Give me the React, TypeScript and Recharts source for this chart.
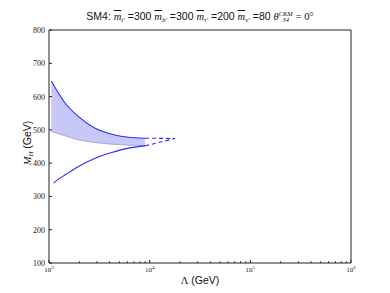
import React from "react";
import { ComposedChart, Area, Line, XAxis, YAxis } from "recharts";

// cutoff scale (GeV) and Higgs mass bounds (GeV)
const lambda = [1054, 1111, 1245, 1451, 1963, 2877, 4207, 6150, 9000, 17860];
const mhUpper = [647, 635, 610, 580, 540, 505, 487, 478, 475, null];
const mhBand = [495, 493, 488, 482, 470, 462, 457, 454, 453, null];
const mhLower = [null, 340, 352, 365, 390, 415, 432, 445, 452, null];
const mhUpperDash = [null, null, null, null, null, null, null, null, 475, 474];
const mhLowerDash = [null, null, null, null, null, null, null, null, 452, 474];

const xMajor = [1e3, 1e4, 1e5, 1e6];
const xMinor = [2, 3, 4, 5, 6, 7, 8, 9].flatMap((m) => [m * 1e3, m * 1e4, m * 1e5]);
const xTicks = [...xMajor, ...xMinor].sort((a, b) => a - b);
const yTicks = [100, 200, 300, 400, 500, 600, 700, 800];

const data = lambda.map((l, i) => ({
  lambda: l,
  upper: mhUpper[i],
  band: mhBand[i],
  lower: mhLower[i],
  upperDash: mhUpperDash[i],
  lowerDash: mhLowerDash[i],
}));

const BLUE = "#2a2aff";
const FRAME = "#222";
const SERIF = "'Liberation Serif', serif";
const SANS = "'Liberation Sans', Arial, sans-serif";

const isMajor = (v: number) => xMajor.includes(v);

function BottomTick(props: any) {
  const { x, y, payload } = props;
  const v = payload.value;
  const len = isMajor(v) ? 3 : 1.7;
  return (
    <g>
      <line x1={x} x2={x} y1={y} y2={y - len} stroke={FRAME} />
      {isMajor(v) && (
        <text x={x} y={y + 9} textAnchor="middle" fontFamily={SERIF} fontSize={7} fill="#222">
          10<tspan dy={-3} fontSize={5}>{Math.round(Math.log10(v))}</tspan>
        </text>
      )}
    </g>
  );
}

function LeftTick(props: any) {
  const { x, y, payload } = props;
  return (
    <g>
      <line x1={x} x2={x + 3} y1={y} y2={y} stroke={FRAME} />
      <text x={x - 4} y={y + 3} textAnchor="end" fontFamily={SERIF} fontSize={8} fill="#222">
        {payload.value}
      </text>
    </g>
  );
}

const mbar = (sub: string) => (
  <>
    <span style={{ fontFamily: SERIF, fontStyle: "italic", textDecoration: "overline" }}>m</span>
    <span style={{ fontFamily: SERIF, fontStyle: "italic", fontSize: 7, position: "relative", top: 2 }}>{sub}</span>
  </>
);

export default function App() {
  return (
    <div style={{ position: "absolute", left: 0, top: 0, width: 390, height: 293, background: "#fff" }}>
      <ComposedChart
        width={390}
        height={293}
        data={data}
        margin={{ top: 24, right: 33, bottom: 0, left: 0 }}
      >
        <XAxis
          dataKey="lambda"
          type="number"
          scale="log"
          domain={[1e3, 1e6]}
          allowDataOverflow
          ticks={xTicks}
          interval={0}
          height={30}
          tickSize={0}
          tickMargin={0}
          tickLine={false}
          tick={<BottomTick />}
          axisLine={{ stroke: FRAME }}
        />
        <XAxis
          xAxisId="top"
          dataKey="lambda"
          type="number"
          scale="log"
          orientation="top"
          domain={[1e3, 1e6]}
          allowDataOverflow
          ticks={xTicks}
          interval={0}
          height={6}
          tickSize={-2}
          tick={false}
          tickLine={{ stroke: FRAME }}
          axisLine={{ stroke: FRAME }}
        />
        <YAxis
          type="number"
          domain={[100, 800]}
          allowDataOverflow
          ticks={yTicks}
          interval={0}
          width={49}
          tickSize={0}
          tickMargin={0}
          tickLine={false}
          tick={<LeftTick />}
          axisLine={{ stroke: FRAME }}
        />
        <YAxis
          yAxisId="right"
          orientation="right"
          type="number"
          domain={[100, 800]}
          allowDataOverflow
          ticks={yTicks}
          interval={0}
          width={6}
          tickSize={-3}
          tick={false}
          tickLine={{ stroke: FRAME }}
          axisLine={{ stroke: FRAME }}
        />
        <Area
          dataKey={(d: any) => (d.band == null ? null : [d.band, d.upper])}
          type="monotone"
          fill="#c8c8f8"
          fillOpacity={1}
          stroke="none"
          isAnimationActive={false}
        />
        <Line
          xAxisId="top"
          yAxisId="right"
          dataKey="band"
          type="monotone"
          stroke="#a9a9d2"
          strokeWidth={1}
          dot={false}
          isAnimationActive={false}
        />
        <Line dataKey="upper" type="monotone" stroke={BLUE} strokeWidth={1.1} dot={false} isAnimationActive={false} />
        <Line dataKey="lower" type="monotone" stroke={BLUE} strokeWidth={1.1} dot={false} isAnimationActive={false} />
        <Line dataKey="upperDash" type="linear" stroke={BLUE} strokeWidth={1.1} strokeDasharray="4 3" dot={false} isAnimationActive={false} />
        <Line dataKey="lowerDash" type="linear" stroke={BLUE} strokeWidth={1.1} strokeDasharray="4 3" dot={false} isAnimationActive={false} />
      </ComposedChart>

      <div
        style={{
          position: "absolute",
          left: 0,
          width: 400,
          top: 10,
          textAlign: "center",
          fontFamily: SANS,
          fontSize: 10.5,
          color: "#111",
          whiteSpace: "nowrap",
        }}
      >
        SM4: {mbar("t′")} =300 {mbar("b′")} =300 {mbar("τ′")} =200 {mbar("ν′")} =80{" "}
        <span style={{ fontFamily: SERIF, fontStyle: "italic" }}>θ</span>
        <span
          style={{
            display: "inline-flex",
            flexDirection: "column",
            fontFamily: SERIF,
            fontStyle: "italic",
            fontSize: 6.5,
            lineHeight: "6.5px",
            verticalAlign: "middle",
          }}
        >
          <span>CKM</span>
          <span>34</span>
        </span>{" "}
        <span style={{ fontFamily: SERIF }}>= 0°</span>
      </div>

      <div
        style={{
          position: "absolute",
          left: 0,
          width: 400,
          top: 274,
          textAlign: "center",
          fontFamily: SANS,
          fontSize: 10.5,
          color: "#111",
        }}
      >
        <span style={{ fontFamily: SERIF }}>Λ</span> (GeV)
      </div>

      <div
        style={{
          position: "absolute",
          left: 27,
          top: 143,
          transform: "translate(-50%, -50%) rotate(-90deg)",
          fontFamily: SANS,
          fontSize: 10.5,
          color: "#111",
          whiteSpace: "nowrap",
        }}
      >
        <span style={{ fontFamily: SERIF, fontStyle: "italic" }}>M</span>
        <span style={{ fontFamily: SERIF, fontStyle: "italic", fontSize: 7, position: "relative", top: 2 }}>H</span> (GeV)
      </div>
    </div>
  );
}
